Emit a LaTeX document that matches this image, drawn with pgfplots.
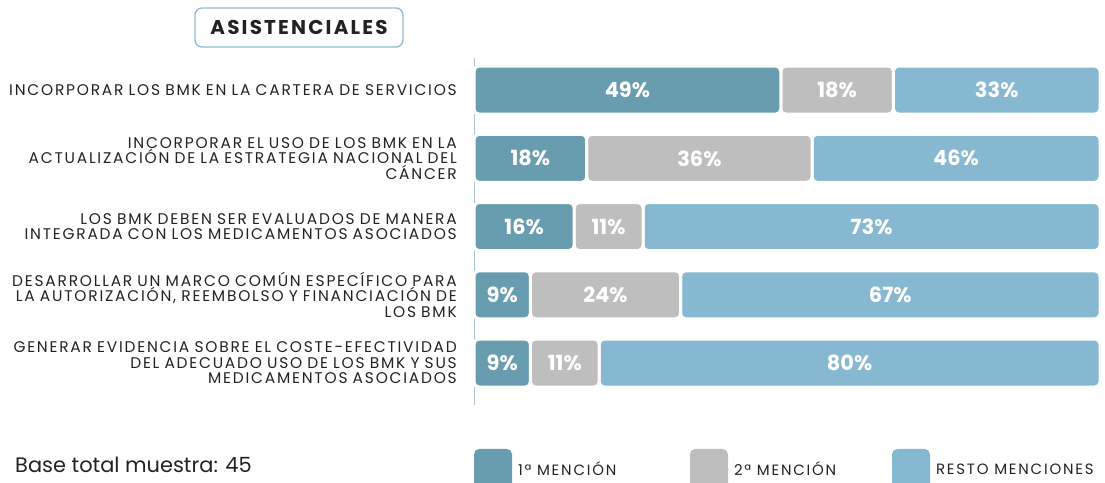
\documentclass[border=0pt]{standalone}
\usepackage{fontspec}
\setmainfont{Poppins}
\newfontfamily\lsfont[LetterSpace=11.5]{Poppins}
\newfontfamily\lsfontb[LetterSpace=11]{Poppins}
\newfontfamily\lgfont[LetterSpace=12]{Poppins}
\usepackage{pgfplots}
\pgfplotsset{compat=1.18}
\definecolor{c1}{HTML}{689DB0}
\definecolor{c2}{HTML}{BEBEBE}
\definecolor{c3}{HTML}{87B8D1}
\definecolor{txt}{HTML}{222222}
\definecolor{framec}{HTML}{8DBBD3}
\definecolor{axisc}{HTML}{A8C4D3}
\begin{document}
\begin{tikzpicture}[x=1bp,y=1bp]
\useasboundingbox (0,0) rectangle (1105,483);
\node[draw=framec, line width=1.3bp, rounded corners=7bp, minimum width=208bp, minimum height=39bp, inner sep=0pt,
      font=\lsfontb\bfseries\fontsize{20}{20}\selectfont, text=txt] at (299,455.5) {ASISTENCIALES};
\node[anchor=west, inner sep=0pt, font=\fontsize{21}{21}\selectfont, text=txt] at (15,18) {Base total muestra: 45};
\begin{axis}[
  at={(474bp,78bp)}, anchor=south west, scale only axis,
  width=626bp, height=347bp,
  xbar stacked, bar width=48bp,
  xmin=0, xmax=100, ymin=-0.47, ymax=4.615, y dir=reverse,
  axis x line=none,
  axis y line*=left,
  y axis line style={color=axisc, line width=1bp},
  ytick={0,1,2,3,4},
  yticklabels={
    {INCORPORAR LOS BMK EN LA CARTERA DE SERVICIOS},
    {INCORPORAR EL USO DE LOS BMK EN LA\\ACTUALIZACIÓN DE LA ESTRATEGIA NACIONAL DEL\\CÁNCER},
    {LOS BMK DEBEN SER EVALUADOS DE MANERA\\INTEGRADA CON LOS MEDICAMENTOS ASOCIADOS},
    {DESARROLLAR UN MARCO COMÚN ESPECÍFICO PARA\\LA AUTORIZACIÓN, REEMBOLSO Y FINANCIACIÓN DE\\LOS BMK},
    {GENERAR EVIDENCIA SOBRE EL COSTE-EFECTIVIDAD\\DEL ADECUADO USO DE LOS BMK Y SUS\\MEDICAMENTOS ASOCIADOS}},
  major tick length=0pt,
  yticklabel style={align=right, text width=470bp, inner sep=0pt, xshift=-17bp,
    font=\lsfont\fontsize{15.5}{15.5}\selectfont, text=txt},
  point meta=explicit symbolic,
  nodes near coords={\pgfplotspointmeta\%},
  every node near coord/.append style={font=\bfseries\fontsize{21}{21}\selectfont, text=white,
    anchor=center},
  every axis plot/.append style={draw=white, line width=3bp, rounded corners=5bp},
  legend style={at={(0,-0.1268)}, anchor=north west, draw=none, fill=none, inner sep=0pt, outer sep=0pt,
    font=\lgfont\fontsize{15}{15}\selectfont, text=txt, nodes={inner sep=0pt},
    /tikz/every odd column/.append style={column sep=6bp},
    /tikz/every even column/.append style={column sep=0bp}},
  legend columns=3,
  legend cell align=left,
]
\addplot[fill=c1, legend image code/.code={\fill[c1,rounded corners=4bp] (0bp,-22bp) rectangle (35bp,19bp);}]
  coordinates {(49,0) [49] (18,1) [18] (16,2) [16] (9,3) [9] (9,4) [9]};
\addlegendentry{\makebox[172bp][l]{1ª MENCIÓN}}
\addplot[fill=c2, legend image code/.code={\fill[c2,rounded corners=4bp] (0bp,-22bp) rectangle (35bp,19bp);}]
  coordinates {(18,0) [18] (36,1) [36] (11,2) [11] (24,3) [24] (11,4) [11]};
\addlegendentry{\makebox[158bp][l]{2ª MENCIÓN}}
\addplot[fill=c3, legend image code/.code={\fill[c3,rounded corners=4bp] (0bp,-22bp) rectangle (35bp,19bp);}]
  coordinates {(33,0) [33] (46,1) [46] (73,2) [73] (67,3) [67] (80,4) [80]};
\addlegendentry{RESTO MENCIONES}
\end{axis}
\end{tikzpicture}
\end{document}
